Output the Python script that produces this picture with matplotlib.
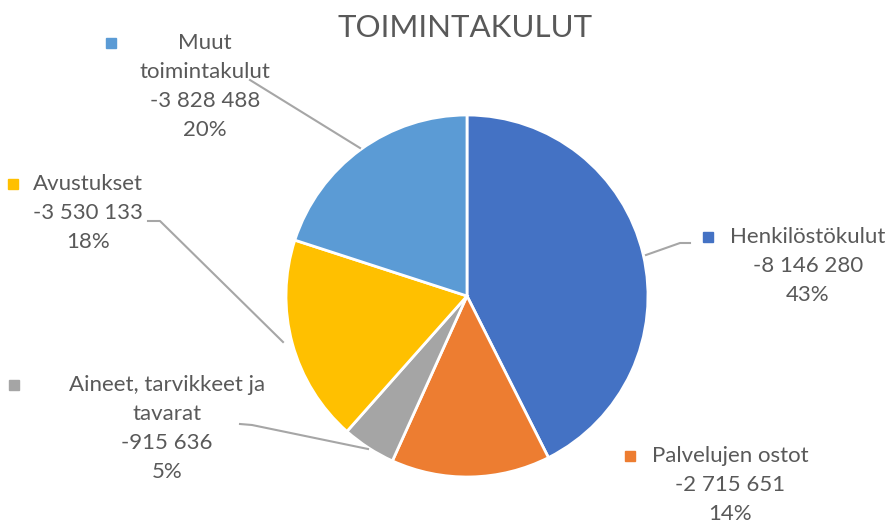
import matplotlib.pyplot as plt

plt.rcParams['font.family'] = ['Lato', 'DejaVu Sans']

# data
categories = ['Henkilöstökulut', 'Palvelujen ostot', 'Aineet, tarvikkeet ja\ntavarat',
              'Avustukset', 'Muut\ntoimintakulut']
values = [-8146280, -2715651, -915636, -3530133, -3828488]
colors = ['#4472C4', '#ED7D31', '#A5A5A5', '#FFC000', '#5B9BD5']
title = 'TOIMINTAKULUT'

W, H = 888, 524
TXT = '#595959'

fig = plt.figure(figsize=(W / 100, H / 100), dpi=100)
ax = fig.add_axes([0, 0, 1, 1])


def py(y):
    # pixel row -> data y
    return H - y


sizes = [abs(v) for v in values]
total = sum(sizes)
ax.pie(sizes, colors=colors, startangle=90, counterclock=False,
       center=(467, py(296)), radius=181, frame=True,
       wedgeprops=dict(edgecolor='white', linewidth=2))
ax.set_xlim(0, W)
ax.set_ylim(0, H)
ax.set_aspect('equal')
ax.axis('off')

ax.text(465, py(28), title, ha='center', va='center', fontsize=22.5, color=TXT)


def fmt(v):
    return f'{v:,}'.replace(',', ' ')


# label layout: (center x, first line y, marker x)
layout = [
    (808, 237, 708),
    (730, 456, 630),
    (167, 385, 14),
    (88, 184, 13),
    (205, 43, 111),
]
# leader lines in pixel coords
leaders = [
    [(646, 255), (680, 243), (690, 243)],
    None,
    [(240, 424), (252, 425), (368, 449)],
    [(148, 221), (160, 221), (283, 342)],
    [(250, 80), (360, 148)],
]

step = 29
for name, v, s, c, (cx, y0, mx), ld in zip(categories, values, sizes, colors, layout, leaders):
    lines = name.split('\n') + [fmt(v), f'{round(s / total * 100)}%']
    for i, line in enumerate(lines):
        ax.text(cx, py(y0 + i * step), line, ha='center', va='center',
                fontsize=16, color=TXT)
    ax.plot([mx], [py(y0)], marker='s', markersize=7, color=c, linestyle='none')
    if ld:
        xs = [p[0] for p in ld]
        ys = [py(p[1]) for p in ld]
        ax.plot(xs, ys, color='#A6A6A6', linewidth=1.5)

fig.savefig('out.png', dpi=100)
